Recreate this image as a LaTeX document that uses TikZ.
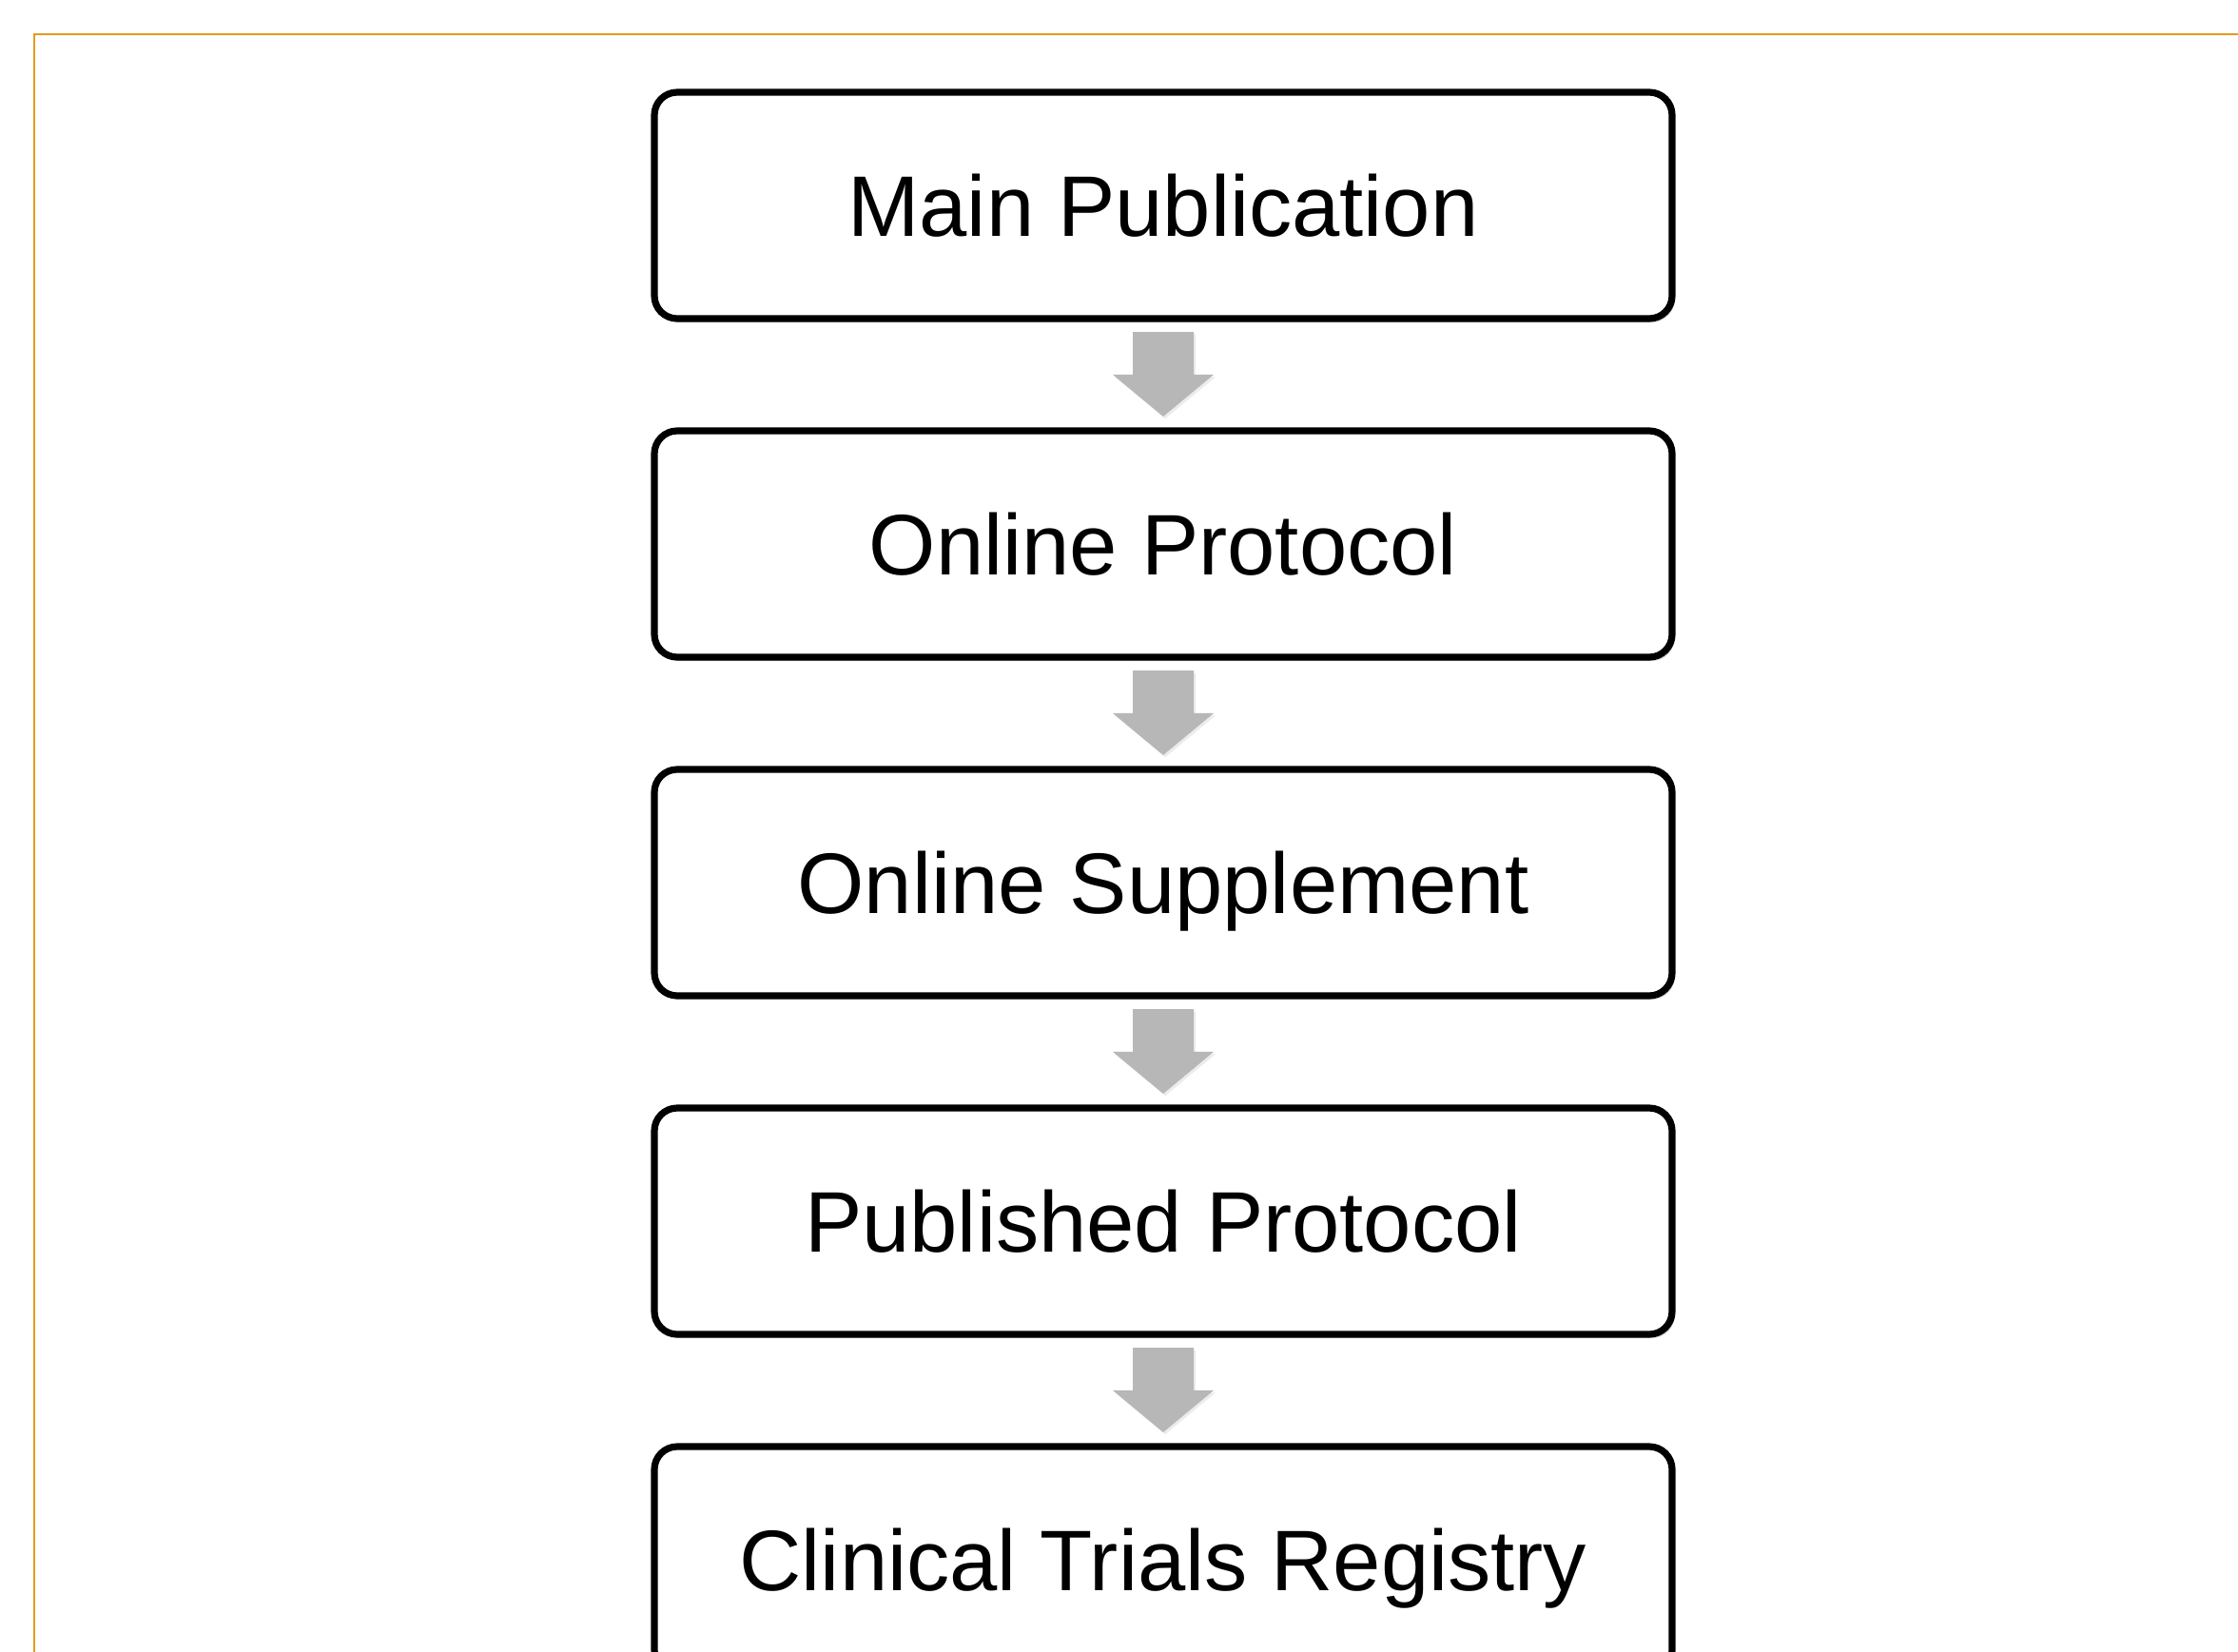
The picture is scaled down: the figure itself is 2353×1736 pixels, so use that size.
\documentclass[tikz,border=0pt]{standalone}
\usepackage{fontspec}
\setmainfont{Liberation Sans}
\usetikzlibrary{calc,shadows}
\definecolor{frameorange}{HTML}{E39A1E}
\definecolor{arrowgray}{HTML}{B7B7B7}
\begin{document}
\begin{tikzpicture}[x=0.25pt,y=-0.25pt,
  stagebox/.style={draw=black, line width=1.8pt, fill=white,
    rounded corners=6pt, minimum width=267.5pt, minimum height=59.5pt,
    inner sep=0pt, font=\fontsize{22.6pt}{27pt}\selectfont,
    text height=16.3pt, text depth=0pt,
    drop shadow={shadow xshift=0.7pt, shadow yshift=-1pt, opacity=0.3}},
  flowarrow/.style={fill=arrowgray,
    drop shadow={shadow xshift=0.5pt, shadow yshift=-0.6pt, opacity=0.15}}]
% page area, clipped so the last box runs off the bottom edge
\clip (0,0) rectangle (2353,1736);
\fill[white] (0,0) rectangle (2353,1736);
% thin orange frame along the top and left
\draw[frameorange, line width=0.65pt] (2400,36) -- (36,36) -- (36,1800);
% the five stages
\node[stagebox] (s1) at (1223,216)  {Main Publication};
\node[stagebox] (s2) at (1223,572)  {Online Protocol};
\node[stagebox] (s3) at (1223,928)  {Online Supplement};
\node[stagebox] (s4) at (1223,1284) {Published Protocol};
\node[stagebox] (s5) at (1223,1640) {Clinical Trials Registry};
% grey block arrows between consecutive stages
\foreach \a/\b in {s1/s2, s2/s3, s3/s4, s4/s5}
  \fill[flowarrow]
    ($(\a.south)+(-32,10.5)$) -- ($(\a.south)+(32,10.5)$)
    -- ($(\b.north)+(32,-55.5)$) -- ($(\b.north)+(53,-55.5)$)
    -- ($(\b.north)+(0,-11.5)$)
    -- ($(\b.north)+(-53,-55.5)$) -- ($(\b.north)+(-32,-55.5)$) -- cycle;
\end{tikzpicture}
\end{document}
